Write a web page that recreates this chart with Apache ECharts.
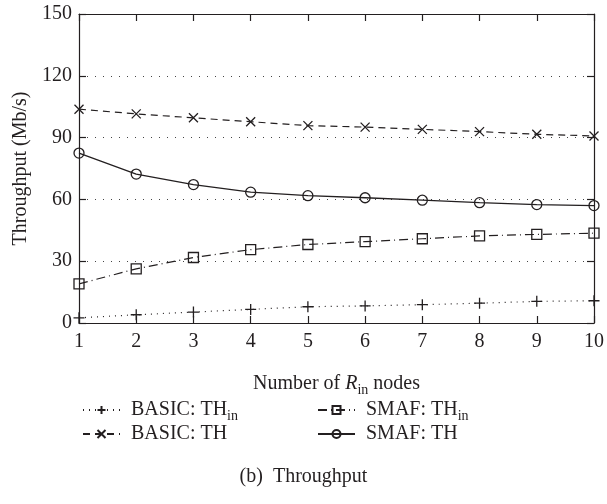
<!DOCTYPE html>
<html lang="en">
<head>
	<meta charset="UTF-8">
	<title>Throughput</title>
	<script src="https://cdn.jsdelivr.net/npm/echarts@6/dist/echarts.min.js"></script>
	<style>
		html, body { margin: 0; padding: 0; background: #fff; }
		#main { width: 607px; height: 504px; }
	</style>
</head>
<body>
	<div id="main"></div>
	<script>
		// values
		var nodes = [1, 2, 3, 4, 5, 6, 7, 8, 9, 10];
		var basicThIn = [2.5, 4.0, 5.3, 6.6, 7.9, 8.3, 8.9, 9.6, 10.5, 10.8];
		var smafThIn = [19.0, 26.3, 31.8, 35.6, 38.1, 39.5, 40.9, 42.3, 43.0, 43.6];
		var basicTh = [103.8, 101.5, 99.6, 97.7, 95.8, 95.1, 94.0, 92.9, 91.6, 90.8];
		var smafTh = [82.5, 72.3, 67.2, 63.5, 61.8, 60.8, 59.6, 58.4, 57.5, 57.0];
		var yTicks = [0, 30, 60, 90, 120, 150];

		var ink = '#231f20';
		var font = 'Liberation Serif';

		function pairs(vals) {
			return nodes.map(function (n, i) { return [n, vals[i]]; });
		}

		var rich = {
			a: { fontFamily: font, fontSize: 20, color: ink },
			i: { fontFamily: font, fontSize: 20, color: ink, fontStyle: 'italic' },
			s: { fontFamily: font, fontSize: 14, color: ink, padding: [12, 0, 0, 0], lineHeight: 14 }
		};

		function legendText(name) {
			var p = name.split('_');
			if (p.length > 1) return '{a|' + p[0] + '}{s|' + p[1] + '}';
			return '{a|' + name + '}';
		}

		var plus = 'path://M5,0L5,10M0,5L10,5';
		var cross = 'path://M0,0L10,10M10,0L0,10';

		var tickStyle = { show: true, inside: true, length: 7, lineStyle: { color: ink, width: 1.2 } };
		var lineAx = { show: true, onZero: false, lineStyle: { color: ink, width: 1.2 } };

		var option = {
			animation: false,
			textStyle: { fontFamily: font, color: ink },
			title: {
				text: '(b)  Throughput',
				left: 'center',
				top: 462,
				textStyle: { fontFamily: font, fontSize: 20, fontWeight: 'normal', color: ink }
			},
			grid: { left: 79, right: 9, top: 14, bottom: 181 },
			legend: [
				{
					data: ['BASIC: TH_in', 'BASIC: TH'],
					orient: 'vertical',
					left: 77, top: 392,
					itemWidth: 37, itemHeight: 10, itemGap: 1,
					formatter: legendText,
					textStyle: { rich: rich, padding: [0, 0, 0, 6] },
					selectedMode: false
				},
				{
					data: ['SMAF: TH_in', 'SMAF: TH'],
					orient: 'vertical',
					left: 312, top: 392,
					itemWidth: 37, itemHeight: 10, itemGap: 1,
					formatter: legendText,
					textStyle: { rich: rich, padding: [0, 0, 0, 6] },
					selectedMode: false
				}
			],
			xAxis: [
				{
					type: 'value', min: 1, max: 10, interval: 1,
					name: '{a|Number of }{i|R}{s|in}{a| nodes}',
					nameLocation: 'middle', nameGap: 51,
					nameTextStyle: { rich: rich },
					axisLine: lineAx,
					axisTick: tickStyle,
					axisLabel: { fontFamily: font, fontSize: 20, color: ink, margin: 9 },
					splitLine: { show: false }
				},
				{
					type: 'value', min: 1, max: 10, interval: 1, position: 'top',
					axisLine: lineAx,
					axisTick: tickStyle,
					axisLabel: { show: false },
					splitLine: { show: false }
				}
			],
			yAxis: [
				{
					type: 'value', min: yTicks[0], max: yTicks[yTicks.length - 1], interval: 30,
					name: 'Throughput (Mb/s)',
					nameLocation: 'middle', nameGap: 46,
					nameTextStyle: { fontFamily: font, fontSize: 20, color: ink },
					axisLine: lineAx,
					axisTick: tickStyle,
					axisLabel: { fontFamily: font, fontSize: 20, color: ink, margin: 7 },
					splitLine: { show: true, lineStyle: { color: '#444', type: [1, 7], width: 1 } }
				},
				{
					type: 'value', min: 0, max: 150, interval: 30, position: 'right',
					axisLine: lineAx,
					axisTick: tickStyle,
					axisLabel: { show: false },
					splitLine: { show: false }
				}
			],
			series: [
				{
					name: 'BASIC: TH_in', type: 'line', data: pairs(basicThIn),
					symbol: plus, symbolSize: 11,
					itemStyle: { color: 'none', borderColor: ink, borderWidth: 1.3 },
					lineStyle: { color: ink, width: 1.2, type: [1, 5] }
				},
				{
					name: 'BASIC: TH', type: 'line', data: pairs(basicTh),
					symbol: cross, symbolSize: 9,
					itemStyle: { color: 'none', borderColor: ink, borderWidth: 1.3 },
					lineStyle: { color: ink, width: 1.2, type: [7, 5] }
				},
				{
					name: 'SMAF: TH_in', type: 'line', data: pairs(smafThIn),
					symbol: 'rect', symbolSize: 10,
					itemStyle: { color: 'none', borderColor: ink, borderWidth: 1.3 },
					lineStyle: { color: ink, width: 1.2, type: [9, 4, 1, 4] }
				},
				{
					name: 'SMAF: TH', type: 'line', data: pairs(smafTh),
					symbol: 'circle', symbolSize: 10,
					itemStyle: { color: 'none', borderColor: ink, borderWidth: 1.3 },
					lineStyle: { color: ink, width: 1.3 }
				}
			]
		};

		var myChart = echarts.init(document.getElementById('main'));
		myChart.setOption(option);
	</script>
</body>
</html>
